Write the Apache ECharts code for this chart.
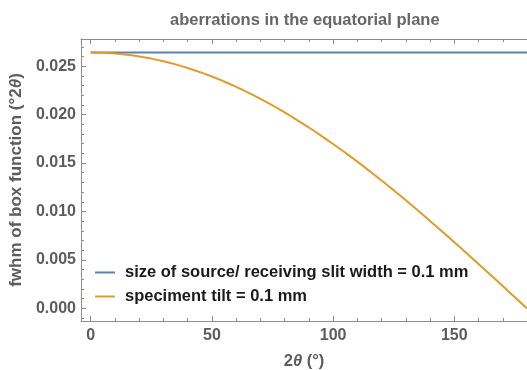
<!DOCTYPE html>
<html>
<head>
<meta charset="utf-8">
<script src="https://cdn.jsdelivr.net/npm/echarts@6/dist/echarts.min.js"></script>
<style>
  html, body { margin: 0; padding: 0; background: #fff; }
  #chart { width: 527px; height: 370px; }
</style>
</head>
<body>
<div id="chart"></div>
<script>
// 2θ sample positions (degrees)
const twoTheta = [0, 5, 10, 15, 20, 25, 30, 35, 40, 45, 50, 55, 60, 65, 70, 75, 80, 85, 90,
                  95, 100, 105, 110, 115, 120, 125, 130, 135, 140, 145, 150, 155, 160, 165, 170, 175, 180];
// fwhm from the source / receiving slit width (constant over 2θ)
const slitWidth = twoTheta.map(() => 0.0264);
// fwhm from the specimen tilt
const specimenTilt = [0.026400, 0.026375, 0.026300, 0.026174, 0.025999, 0.025774, 0.025500, 0.025178,
                      0.024808, 0.024390, 0.023927, 0.023417, 0.022863, 0.022266, 0.021626, 0.020945,
                      0.020224, 0.019464, 0.018668, 0.017836, 0.016970, 0.016071, 0.015142, 0.014185,
                      0.013200, 0.012190, 0.011157, 0.010103, 0.009029, 0.007939, 0.006833, 0.005714,
                      0.004584, 0.003446, 0.002301, 0.001152, 0.000000];
// tick positions
const xMajor = [0, 50, 100, 150];
const xMinor = [10, 20, 30, 40, 60, 70, 80, 90, 110, 120, 130, 140, 160, 170];
const yMajor = [0, 0.005, 0.010, 0.015, 0.020, 0.025];
const yMinor = [-0.001, 0.001, 0.002, 0.003, 0.004, 0.006, 0.007, 0.008, 0.009, 0.011, 0.012, 0.013,
                0.014, 0.016, 0.017, 0.018, 0.019, 0.021, 0.022, 0.023, 0.024, 0.026, 0.027];

const seriesNames = ['size of source/ receiving slit width = 0.1 mm', 'speciment tilt = 0.1 mm'];

const FRAME = '#8c8c8c';
const LABEL = '#5c5c5c';
const FONT = 'Liberation Sans';
const X_MIN = -4, X_MAX = 180, Y_MIN = -0.0013, Y_MAX = 0.0278;

// frame axes: one for major ticks (with line/labels), one for minor ticks
function xAxisDef(pos, ticks, len, withLabels, withLine) {
  return {
    type: 'value', position: pos, min: X_MIN, max: X_MAX,
    axisLine: { show: withLine, onZero: false, lineStyle: { color: FRAME, width: 1 } },
    axisTick: { show: true, inside: true, length: len, customValues: ticks, lineStyle: { color: FRAME, width: 1 } },
    axisLabel: withLabels ? {
      show: true, customValues: ticks, color: LABEL, fontFamily: FONT, fontWeight: 'bold', fontSize: 16, margin: 7
    } : { show: false },
    splitLine: { show: false }
  };
}
function yAxisDef(ticks, len, withLabels, withLine) {
  return {
    type: 'value', position: 'left', min: Y_MIN, max: Y_MAX,
    axisLine: { show: withLine, onZero: false, lineStyle: { color: FRAME, width: 1 } },
    axisTick: { show: true, inside: true, length: len, customValues: ticks, lineStyle: { color: FRAME, width: 1 } },
    axisLabel: withLabels ? {
      show: true, customValues: ticks, color: LABEL, fontFamily: FONT, fontWeight: 'bold', fontSize: 16, margin: 5,
      formatter: v => v.toFixed(3)
    } : { show: false },
    splitLine: { show: false }
  };
}

const italicTheta = size => ({ i: { fontStyle: 'italic', color: LABEL, fontFamily: FONT, fontWeight: 'bold', fontSize: size } });

const xBottom = xAxisDef('bottom', xMajor, 5, true, true);
xBottom.name = '2{i|θ} (°)';
xBottom.nameLocation = 'middle';
xBottom.nameGap = 32;
xBottom.nameTextStyle = { color: LABEL, fontFamily: FONT, fontWeight: 'bold', fontSize: 16.5, rich: italicTheta(16.5) };

const yLeft = yAxisDef(yMajor, 5, true, true);
yLeft.name = 'fwhm of box function (°2{i|θ})';
yLeft.nameLocation = 'middle';
yLeft.nameGap = 54;
yLeft.nameTextStyle = { color: LABEL, fontFamily: FONT, fontWeight: 'bold', fontSize: 17, rich: italicTheta(17) };

const chart = echarts.init(document.getElementById('chart'), null, { renderer: 'canvas' });
chart.setOption({
  animation: false,
  backgroundColor: '#ffffff',
  title: {
    text: 'aberrations in the equatorial plane',
    left: 170, top: 12, padding: 0,
    textStyle: { color: '#666666', fontFamily: FONT, fontWeight: 'bold', fontSize: 16.5 }
  },
  grid: { left: 81, top: 39, right: 0, bottom: 49, containLabel: false, outerBoundsMode: 'none' },
  xAxis: [
    xBottom,
    xAxisDef('bottom', xMinor, 3, false, false),
    xAxisDef('top', xMajor, 5, false, true),
    xAxisDef('top', xMinor, 3, false, false)
  ],
  yAxis: [
    yLeft,
    yAxisDef(yMinor, 3, false, false)
  ],
  legend: {
    orient: 'vertical', left: 95, top: 264, padding: 0,
    itemWidth: 20, itemHeight: 2, itemGap: 7, icon: 'rect',
    textStyle: { color: '#1a1a1a', fontFamily: FONT, fontWeight: 'bold', fontSize: 16.5, padding: [0, 0, 0, 5] },
    data: seriesNames
  },
  series: [
    {
      name: seriesNames[0], type: 'line', xAxisIndex: 0, yAxisIndex: 0,
      data: twoTheta.map((x, i) => [x, slitWidth[i]]),
      showSymbol: false, symbol: 'none',
      lineStyle: { color: '#5e81b5', width: 2 }, itemStyle: { color: '#5e81b5' }
    },
    {
      name: seriesNames[1], type: 'line', xAxisIndex: 0, yAxisIndex: 0,
      data: twoTheta.map((x, i) => [x, specimenTilt[i]]),
      smooth: true, showSymbol: false, symbol: 'none',
      lineStyle: { color: '#e19c24', width: 2 }, itemStyle: { color: '#e19c24' }
    }
  ]
});
</script>
</body>
</html>
